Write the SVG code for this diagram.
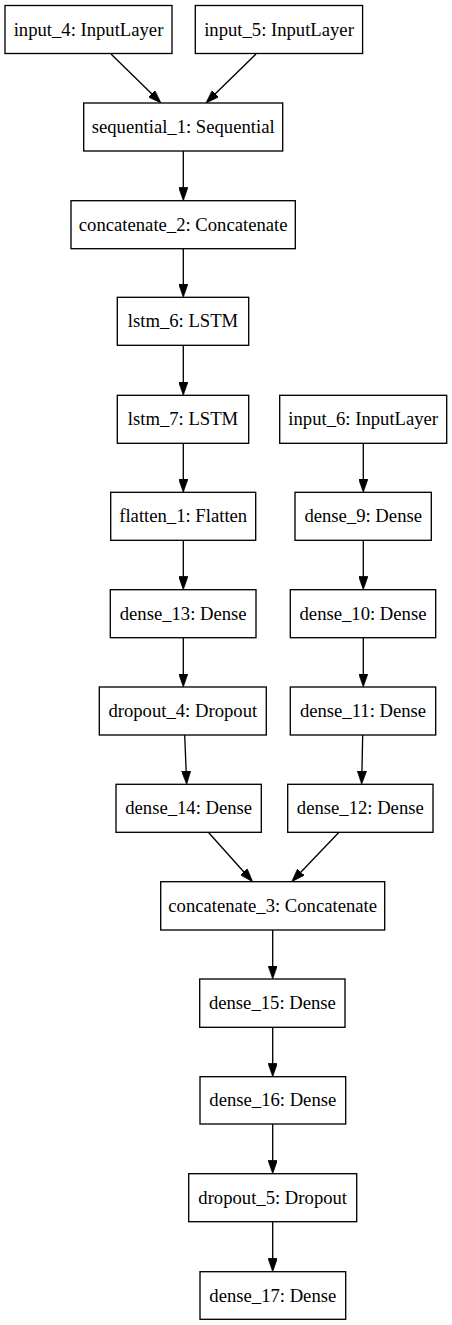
<svg xmlns="http://www.w3.org/2000/svg" width="452" height="1325" viewBox="0 0 452 1325">
<style>
.n rect{fill:#fff;stroke:#000;stroke-width:1.33}
.n text{font-family:"Liberation Serif","Times New Roman",serif;font-size:18.67px;text-anchor:middle;fill:#000}
.e line{stroke:#000;stroke-width:1.33;marker-end:url(#ah)}
</style>
<defs>
<marker id="ah" markerUnits="userSpaceOnUse" markerWidth="13.33" markerHeight="9.33" viewBox="0 0 10 7" refX="8.5" refY="3.5" orient="auto">
<path d="M0,0 L10,3.5 L0,7 z" fill="#000" stroke="#000" stroke-width="0.5"/>
</marker>
</defs>
<rect width="452" height="1325" fill="#fff"/>
<g id="connectors" class="e">
<line x1="111" y1="54" x2="159.6" y2="101.6"/>
<line x1="256" y1="54" x2="207.4" y2="101.6"/>
<line x1="183.3" y1="151" x2="183.3" y2="198.7"/>
<line x1="183.3" y1="248.7" x2="183.3" y2="295.3"/>
<line x1="183.3" y1="345.3" x2="183.3" y2="393.3"/>
<line x1="183.3" y1="443.3" x2="183.3" y2="490.3"/>
<line x1="183.3" y1="540.3" x2="183.3" y2="587.7"/>
<line x1="183.3" y1="637.7" x2="183.3" y2="685"/>
<line x1="184.7" y1="735" x2="186.6" y2="782.3"/>
<line x1="363.3" y1="443.3" x2="363.3" y2="490.3"/>
<line x1="363.3" y1="540.3" x2="363.3" y2="587.7"/>
<line x1="363.3" y1="637.7" x2="363.3" y2="685"/>
<line x1="362.7" y1="735" x2="361.7" y2="782.3"/>
<line x1="208.3" y1="832.3" x2="251.3" y2="880.2"/>
<line x1="339" y1="832.3" x2="293.1" y2="880.2"/>
<line x1="272.7" y1="930" x2="272.7" y2="977"/>
<line x1="272.7" y1="1027.3" x2="272.7" y2="1074.7"/>
<line x1="272.7" y1="1124" x2="272.7" y2="1171.7"/>
<line x1="272.7" y1="1221.7" x2="272.7" y2="1269.7"/>
</g>
<g id="input_4" class="n"><rect x="5" y="5.5" width="167" height="48"/><text x="88.5" y="35.5">input_4: InputLayer</text></g>
<g id="input_5" class="n"><rect x="195.3" y="5.5" width="167.3" height="48"/><text x="279" y="35.5">input_5: InputLayer</text></g>
<g id="sequential_1" class="n"><rect x="83.7" y="103" width="199" height="48"/><text x="183.2" y="133">sequential_1: Sequential</text></g>
<g id="concatenate_2" class="n"><rect x="71" y="200.7" width="224.3" height="48"/><text x="183.2" y="230.7">concatenate_2: Concatenate</text></g>
<g id="lstm_6" class="n"><rect x="117.3" y="297.3" width="131.4" height="48"/><text x="183" y="327.3">lstm_6: LSTM</text></g>
<g id="lstm_7" class="n"><rect x="117.3" y="395.3" width="131.4" height="48"/><text x="183" y="425.3">lstm_7: LSTM</text></g>
<g id="input_6" class="n"><rect x="279.7" y="395.3" width="167" height="48"/><text x="363.2" y="425.3">input_6: InputLayer</text></g>
<g id="flatten_1" class="n"><rect x="110.7" y="492.3" width="145" height="48"/><text x="183.2" y="522.3">flatten_1: Flatten</text></g>
<g id="dense_9" class="n"><rect x="295" y="492.3" width="136.3" height="48"/><text x="363.2" y="522.3">dense_9: Dense</text></g>
<g id="dense_13" class="n"><rect x="110.3" y="589.7" width="145.7" height="48"/><text x="183.2" y="619.7">dense_13: Dense</text></g>
<g id="dense_10" class="n"><rect x="290.3" y="589.7" width="145.4" height="48"/><text x="363" y="619.7">dense_10: Dense</text></g>
<g id="dropout_4" class="n"><rect x="99.3" y="687" width="167" height="48"/><text x="182.8" y="717">dropout_4: Dropout</text></g>
<g id="dense_11" class="n"><rect x="290.3" y="687" width="145.4" height="48"/><text x="363" y="717">dense_11: Dense</text></g>
<g id="dense_14" class="n"><rect x="116" y="784.3" width="145.3" height="48"/><text x="188.7" y="814.3">dense_14: Dense</text></g>
<g id="dense_12" class="n"><rect x="287.7" y="784.3" width="145.3" height="48"/><text x="360.3" y="814.3">dense_12: Dense</text></g>
<g id="concatenate_3" class="n"><rect x="160.7" y="881.7" width="224" height="48.3"/><text x="272.7" y="911.7">concatenate_3: Concatenate</text></g>
<g id="dense_15" class="n"><rect x="199.7" y="979" width="145.3" height="48.3"/><text x="272.4" y="1009">dense_15: Dense</text></g>
<g id="dense_16" class="n"><rect x="200" y="1076.7" width="145.7" height="47.3"/><text x="272.8" y="1106.4">dense_16: Dense</text></g>
<g id="dropout_5" class="n"><rect x="188.7" y="1173.7" width="168" height="48"/><text x="272.7" y="1203.7">dropout_5: Dropout</text></g>
<g id="dense_17" class="n"><rect x="200" y="1271.7" width="145.7" height="47.6"/><text x="272.8" y="1301.5">dense_17: Dense</text></g>
</svg>
